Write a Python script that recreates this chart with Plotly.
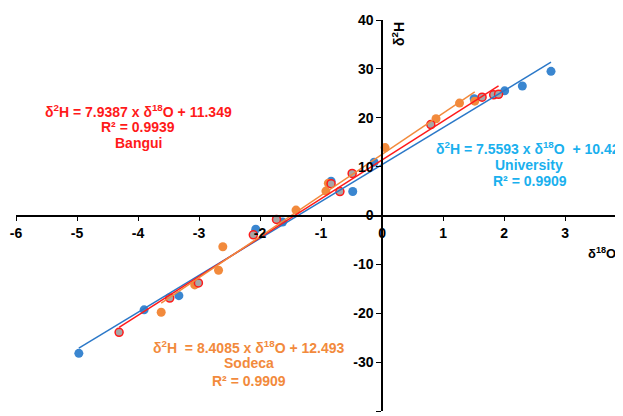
import plotly.graph_objects as go

# University (blue)
uni_x = [-4.97, -3.90, -3.33, -2.07, -1.63, -0.835, -0.48, -0.13, 1.51, 2.01, 2.30, 2.77]
uni_y = [-28.2, -19.3, -16.4, -2.8, -1.35, 7.0, 4.9, 10.9, 23.9, 25.5, 26.5, 29.5]
# Sodeca (orange)
sod_x = [-3.62, -3.07, -2.68, -2.61, -1.41, -0.92, -0.88, 0.05, 0.885, 1.27, 1.52]
sod_y = [-19.8, -14.2, -11.2, -6.4, 1.1, 5.0, 6.6, 13.9, 19.8, 23.0, 23.4]
# Bangui (gray, red outline)
ban_x = [-4.31, -3.48, -3.01, -2.11, -1.73, -0.835, -0.69, -0.49, 0.80, 1.64, 1.83, 1.91]
ban_y = [-23.9, -16.9, -13.8, -3.95, -0.8, 6.5, 4.9, 8.6, 18.6, 24.2, 24.7, 24.8]

# Regression equations shown in the chart (slope, intercept)
uni_fit = (7.5593, 10.423)
sod_fit = (8.4085, 12.493)
ban_fit = (7.9387, 11.349)

x_ticks = [-6, -5, -4, -3, -2, -1, 0, 1, 2, 3, 4]
y_ticks = [-40, -30, -20, -10, 0, 10, 20, 30, 40]

BLUE = "#3a86d0"
BLUE_LINE = "#2b78c8"
ORANGE = "#f28a3c"
RED = "#ff1a1a"
GRAY = "#a6a6a6"
SKY = "#1ab0ee"
FONT = "Arial, Liberation Sans, sans-serif"

fig = go.Figure()

fig.add_trace(go.Scatter(x=uni_x, y=uni_y, mode="markers",
                         marker=dict(size=9, color=BLUE, line=dict(width=0)),
                         name="University", cliponaxis=False))
fig.add_trace(go.Scatter(x=sod_x, y=sod_y, mode="markers",
                         marker=dict(size=9, color=ORANGE, line=dict(width=0)),
                         name="Sodeca", cliponaxis=False))
fig.add_trace(go.Scatter(x=ban_x, y=ban_y, mode="markers",
                         marker=dict(size=8, color=GRAY, line=dict(width=1.5, color=RED)),
                         name="Bangui", cliponaxis=False))

def fit_line(xs, fit, color):
    x0, x1 = min(xs), max(xs)
    a, b = fit
    fig.add_trace(go.Scatter(x=[x0, x1], y=[a * x0 + b, a * x1 + b], mode="lines",
                             line=dict(color=color, width=1.5), showlegend=False,
                             hoverinfo="skip"))

fit_line(uni_x, uni_fit, BLUE_LINE)
fit_line(ban_x, ban_fit, RED)
fit_line(sod_x, sod_fit, ORANGE)

x_range = [-6, 3.95]
y_range = [-40, 40]
ypos = (0 - x_range[0]) / (x_range[1] - x_range[0])

# page has an 8px body margin; figure sized/margined so the plot area sits at page x 16..623, y 20..411
W, H = 615, 408
L, R, T, B = 8, 0, 12, 5
PW, PH = W - L - R, H - T - B
OFF = 8

tickfont = dict(family=FONT, size=14, color="black", weight="bold")
fig.update_layout(
    width=W, height=H,
    margin=dict(l=L, r=R, t=T, b=B, autoexpand=False),
    plot_bgcolor="white", paper_bgcolor="white",
    showlegend=False,
    font=dict(family=FONT, size=12, color="black"),
    xaxis=dict(range=x_range, tickvals=x_ticks, ticktext=[str(v) for v in x_ticks],
               showgrid=False, zeroline=False, showline=True, linecolor="black", linewidth=1.5,
               ticks="outside", ticklen=5, tickwidth=1.2, tickcolor="black",
               tickfont=tickfont, anchor="free", position=0.5, automargin=False),
    yaxis=dict(range=y_range, tickvals=y_ticks, ticktext=[str(v) for v in y_ticks],
               showgrid=False, zeroline=False, showline=True, linecolor="black", linewidth=1.5,
               ticks="outside", ticklen=5, tickwidth=1.2, tickcolor="black",
               tickfont=tickfont, anchor="free", position=ypos, automargin=False),
)

def px(xp):
    return (xp - OFF - L) / PW

def py(yp):
    return 1 - (yp - OFF - T) / PH

def label(text, xp, yp, color, size=14, xanchor="center", angle=0):
    fig.add_annotation(xref="paper", yref="paper", x=px(xp), y=py(yp), text=text,
                       showarrow=False, xanchor=xanchor, yanchor="middle", textangle=angle,
                       font=dict(family=FONT, size=size, color=color, weight="bold"))

label("δ<sup>2</sup>H = 7.9387 x δ<sup>18</sup>O + 11.349", 138, 111, RED)
label("R² = 0.9939", 138, 127, RED)
label("Bangui", 138, 143, RED)

label("δ<sup>2</sup>H = 7.5593 x δ<sup>18</sup>O  + 10.423", 434, 148, SKY, xanchor="left")
label("University", 529, 165, SKY)
label("R² = 0.9909", 530, 181, SKY)

label("δ<sup>2</sup>H  = 8.4085 x δ<sup>18</sup>O + 12.493", 249, 347, ORANGE)
label("Sodeca", 249, 363, ORANGE)
label("R² = 0.9909", 249, 381, ORANGE)

label("δ<sup>18</sup>O", 618, 253, "black", size=13, xanchor="right")
label("δ<sup>2</sup>H", 398, 34, "black", size=14, angle=-90)

fig.write_html("out.html")
